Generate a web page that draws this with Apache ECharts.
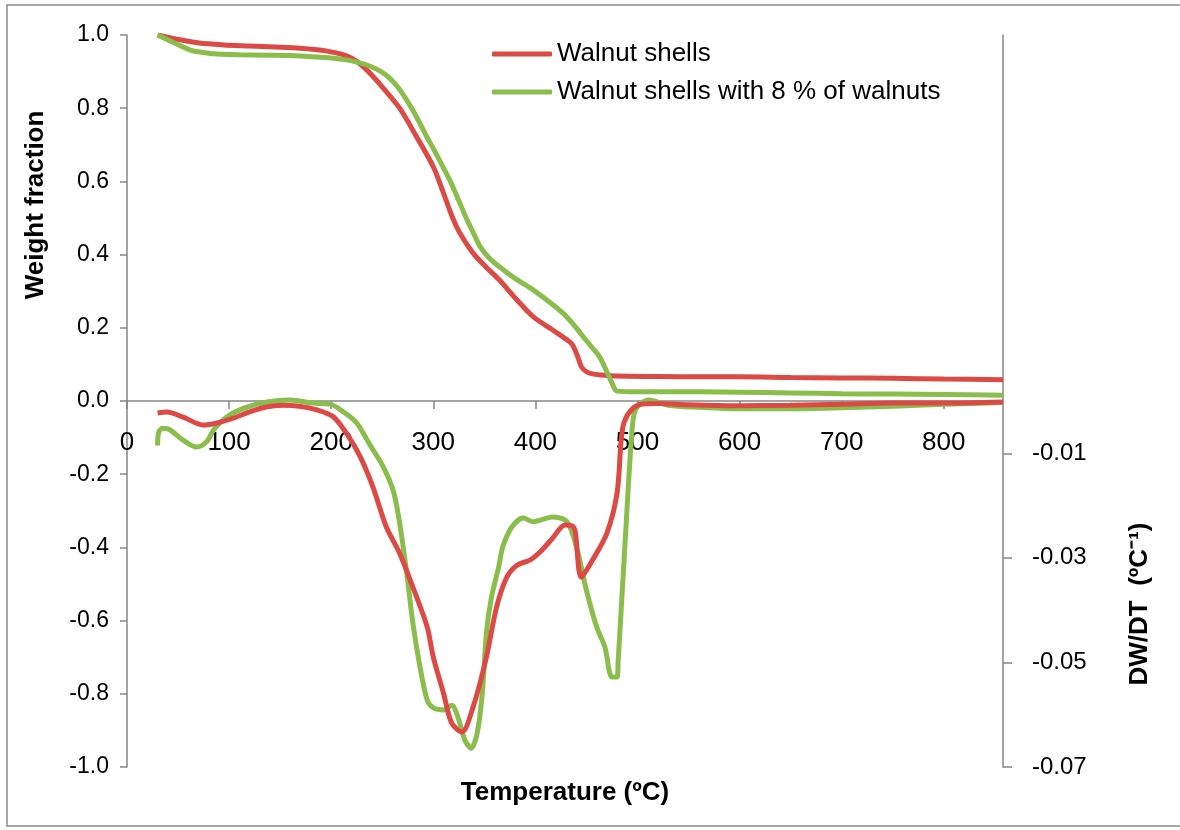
<!DOCTYPE html>
<html>
<head>
<meta charset="utf-8">
<script src="https://cdn.jsdelivr.net/npm/echarts@6/dist/echarts.min.js"></script>
<style>
  html, body { margin: 0; background: #fff; }
  #main { width: 1180px; height: 830px; }
</style>
</head>
<body>
<div id="main"></div>
<script>
// TG curves (weight fraction, left axis)
const tgShellsT = [30, 50, 71, 95, 120, 145, 169, 186, 196, 205, 215, 225, 235, 251, 267, 284, 300, 310, 319, 326, 339, 352, 365, 382, 398, 417, 431, 436, 441, 445, 450, 456, 465, 480, 520, 561, 600, 650, 700, 750, 800, 858];
const tgShellsW = [1.0, 0.988, 0.978, 0.973, 0.970, 0.967, 0.964, 0.960, 0.956, 0.951, 0.943, 0.928, 0.904, 0.855, 0.80, 0.72, 0.64, 0.568, 0.50, 0.459, 0.404, 0.365, 0.33, 0.276, 0.23, 0.194, 0.167, 0.155, 0.125, 0.094, 0.080, 0.074, 0.071, 0.068, 0.067, 0.066, 0.066, 0.064, 0.063, 0.062, 0.060, 0.058];

const tgMixT = [30, 45, 62, 75, 88, 110, 137, 160, 186, 200, 215, 225, 235, 245, 254, 264, 274, 284, 294, 300, 316, 323, 333, 340, 346, 355, 365, 380, 398, 413, 427, 437, 447, 455, 463, 470, 475, 480, 500, 561, 600, 650, 700, 750, 800, 858];
const tgMixW = [1.0, 0.98, 0.959, 0.952, 0.948, 0.946, 0.945, 0.944, 0.940, 0.937, 0.932, 0.926, 0.918, 0.906, 0.89, 0.862, 0.822, 0.774, 0.72, 0.69, 0.604, 0.56, 0.495, 0.455, 0.421, 0.39, 0.366, 0.335, 0.303, 0.272, 0.24, 0.21, 0.175, 0.148, 0.12, 0.08, 0.049, 0.027, 0.025, 0.025, 0.024, 0.022, 0.020, 0.019, 0.018, 0.016];

// DTG curves (right axis)
const dtgShellsT = [30, 39, 55, 75, 88, 104, 120, 137, 153, 169, 186, 202, 215, 228, 241, 254, 267, 280, 294, 300, 310, 318, 328, 339, 352, 362, 372, 382, 395, 405, 417, 429, 436, 439, 445, 456, 470, 480, 484, 487, 495, 504, 520, 550, 600, 650, 700, 750, 800, 858];
const dtgShellsD = [-0.0023, -0.0021, -0.0031, -0.0046, -0.0042, -0.0033, -0.0021, -0.0011, -0.0008, -0.001, -0.0017, -0.003, -0.0062, -0.0105, -0.0165, -0.0241, -0.0291, -0.0356, -0.0432, -0.049, -0.0559, -0.0616, -0.0633, -0.0585, -0.049, -0.0394, -0.0337, -0.0314, -0.0304, -0.0288, -0.0262, -0.0237, -0.0239, -0.025, -0.0337, -0.0304, -0.0253, -0.0176, -0.0075, -0.0040, -0.0015, -0.0006, -0.0005, -0.0007, -0.0009, -0.0008, -0.0006, -0.0004, -0.0004, -0.0002];

const dtgMixT = [30, 31, 35, 42, 55, 68, 78, 85, 98, 114, 137, 160, 182, 199, 212, 225, 238, 251, 261, 267, 274, 280, 287, 294, 300, 310, 318, 324, 331, 337, 343, 348, 352, 357, 364, 368, 377, 388, 398, 408, 417, 431, 441, 450, 460, 468, 475, 480, 481, 488, 494, 498, 511, 530, 560, 600, 650, 700, 750, 800, 858];
const dtgMixD = [-0.0085, -0.006, -0.0052, -0.0055, -0.0075, -0.0088, -0.0078, -0.0055, -0.003, -0.0014, -0.0002, 0.0002, -0.0004, -0.0006, -0.0021, -0.0042, -0.0084, -0.0126, -0.0173, -0.0233, -0.0329, -0.0425, -0.0509, -0.0572, -0.0587, -0.0591, -0.0582, -0.0604, -0.0649, -0.0664, -0.0635, -0.0559, -0.0444, -0.0375, -0.0318, -0.0279, -0.0241, -0.0224, -0.0231, -0.0226, -0.0222, -0.0231, -0.0285, -0.0362, -0.0432, -0.047, -0.0528, -0.0528, -0.050, -0.0266, -0.0075, -0.0017, 0.0002, -0.0008, -0.0012, -0.0015, -0.0015, -0.0013, -0.0010, -0.0006, -0.0003];

const xTicks = [0, 100, 200, 300, 400, 500, 600, 700, 800];
const rightTicks = [-0.07, -0.05, -0.03, -0.01];
const seriesNames = ['Walnut shells', 'Walnut shells with 8 % of walnuts'];

const red = '#DC4A45', green = '#8BBD4D', axisGray = '#868686';
const font = 'Liberation Sans';

function pairs(xs, ys) { return xs.map((x, i) => [x, ys[i]]); }

function line(name, color, yIdx, data) {
  return {
    name: name, type: 'line', yAxisIndex: yIdx, data: data,
    showSymbol: false, smooth: 0.3, animation: false,
    itemStyle: { color: color },
    lineStyle: { color: color, width: 5 }
  };
}

const chart = echarts.init(document.getElementById('main'));
chart.setOption({
  backgroundColor: '#fff',
  animation: false,
  grid: { left: 127, right: 177, top: 35, bottom: 63, containLabel: false },
  legend: {
    data: seriesNames, orient: 'vertical', left: 492, top: 41, padding: 0,
    icon: 'roundRect', itemWidth: 60, itemHeight: 5, itemGap: 12,
    textStyle: { fontFamily: font, fontSize: 26, color: '#000' }
  },
  xAxis: {
    type: 'value', min: 0, max: 858, offset: -366,
    axisLine: { onZero: false, lineStyle: { color: axisGray, width: 1.5 } },
    axisTick: { customValues: xTicks, length: 8, lineStyle: { color: axisGray, width: 1.5 } },
    axisLabel: { customValues: xTicks, margin: 29, fontFamily: font, fontSize: 26, color: '#000' },
    splitLine: { show: false }
  },
  yAxis: [{
    type: 'value', min: -1, max: 1, interval: 0.2,
    axisLine: { show: true, lineStyle: { color: axisGray, width: 1.5 } },
    axisTick: { show: true, length: 7, lineStyle: { color: axisGray, width: 1.5 } },
    axisLabel: { margin: 18, fontFamily: font, fontSize: 23, color: '#000',
      formatter: v => v.toFixed(1) },
    splitLine: { show: false }
  }, {
    type: 'value', min: -0.07, max: 0.07, position: 'right',
    axisLine: { show: true, lineStyle: { color: axisGray, width: 1.5 } },
    axisTick: { show: true, customValues: rightTicks, length: 9, lineStyle: { color: axisGray, width: 1.5 } },
    axisLabel: { customValues: rightTicks, margin: 29, fontFamily: font, fontSize: 24, color: '#000',
      formatter: v => v.toFixed(2) },
    splitLine: { show: false }
  }],
  graphic: [
    { type: 'rect', shape: { x: 7, y: 5, width: 1190, height: 821 }, silent: true,
      style: { fill: 'none', stroke: '#8c8c8c', lineWidth: 1.5 } },
    { type: 'text', x: 565, y: 793, silent: true,
      style: { text: 'Temperature (ºC)', fontFamily: font, fontWeight: 'bold', fontSize: 26,
        fill: '#000', align: 'center', verticalAlign: 'middle' } },
    { type: 'text', x: 36, y: 205, rotation: Math.PI / 2, silent: true,
      style: { text: 'Weight fraction', fontFamily: font, fontWeight: 'bold', fontSize: 26,
        fill: '#000', align: 'center', verticalAlign: 'middle' } },
    { type: 'text', x: 1140, y: 604, rotation: Math.PI / 2, silent: true,
      style: { text: 'DW/DT  (ºC⁻¹)', fontFamily: font, fontWeight: 'bold', fontSize: 26,
        fill: '#000', align: 'center', verticalAlign: 'middle' } }
  ],
  series: [
    line(seriesNames[0], red, 0, pairs(tgShellsT, tgShellsW)),
    line(seriesNames[1], green, 0, pairs(tgMixT, tgMixW)),
    line(seriesNames[1], green, 1, pairs(dtgMixT, dtgMixD)),
    line(seriesNames[0], red, 1, pairs(dtgShellsT, dtgShellsD))
  ]
});
</script>
</body>
</html>
